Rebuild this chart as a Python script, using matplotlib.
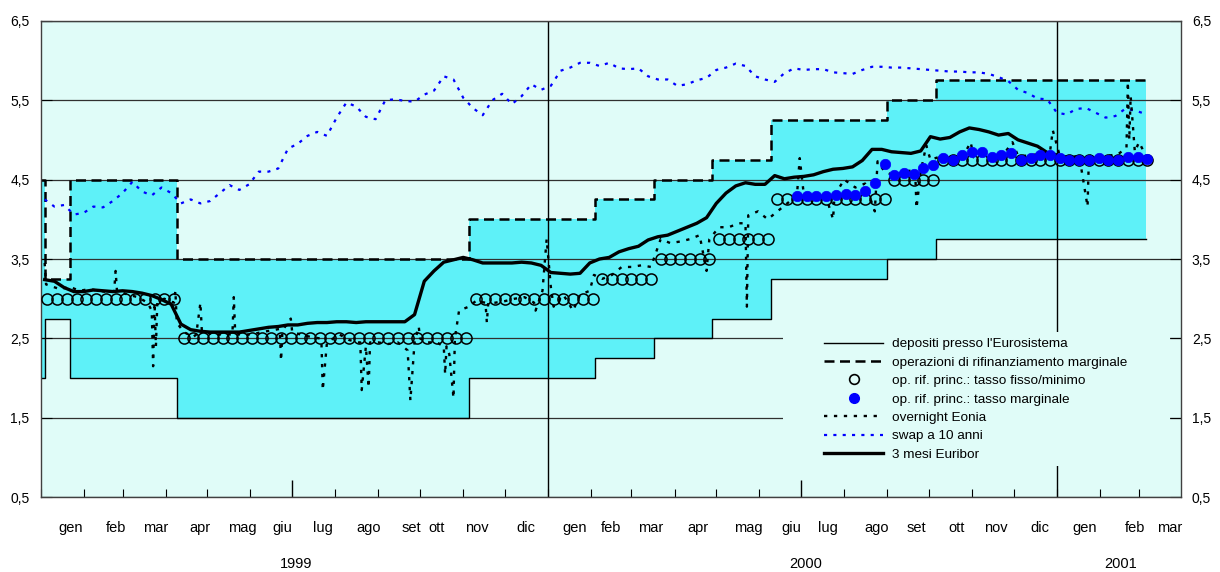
import matplotlib
matplotlib.use("Agg")
import matplotlib.pyplot as plt
import matplotlib.dates as mdates
from matplotlib.lines import Line2D
from matplotlib.patches import Rectangle
from matplotlib.ticker import FuncFormatter
import pandas as pd

plt.rcParams["font.family"] = ["Liberation Sans", "DejaVu Sans"]

BG = "#E0FCF8"
CORRIDOR = "#5EF1F8"
BLUE = "#0000FF"

# standing facilities, dates on which a new rate takes effect
policy_dates = ["1999-01-01", "1999-01-04", "1999-01-22", "1999-04-09", "1999-11-05",
                "2000-02-04", "2000-03-17", "2000-04-28", "2000-06-09", "2000-09-01",
                "2000-10-06", "2001-03-06"]
deposit_rate = [2.0, 2.75, 2.0, 1.5, 2.0, 2.25, 2.5, 2.75, 3.25, 3.5, 3.75, 3.75]
marginal_rate = [4.5, 3.25, 4.5, 3.5, 4.0, 4.25, 4.5, 4.75, 5.25, 5.5, 5.75, 5.75]

# main refinancing operations, weekly from 6 Jan 1999
mro_first = "1999-01-06"
mro_fixed = [
    3.0, 3.0, 3.0, 3.0,                # gen 99
    3.0, 3.0, 3.0, 3.0,                # feb
    3.0, 3.0, 3.0, 3.0, 3.0,           # mar
    3.0, 2.5, 2.5, 2.5,                # apr
    2.5, 2.5, 2.5, 2.5,                # mag
    2.5, 2.5, 2.5, 2.5, 2.5,           # giu
    2.5, 2.5, 2.5, 2.5,                # lug
    2.5, 2.5, 2.5, 2.5,                # ago
    2.5, 2.5, 2.5, 2.5, 2.5,           # set
    2.5, 2.5, 2.5, 2.5,                # ott
    2.5, 3.0, 3.0, 3.0,                # nov
    3.0, 3.0, 3.0, 3.0, 3.0,           # dic
    3.0, 3.0, 3.0, 3.0,                # gen 00
    3.0, 3.25, 3.25, 3.25,             # feb
    3.25, 3.25, 3.25, 3.5, 3.5,        # mar
    3.5, 3.5, 3.5, 3.5,                # apr
    3.75, 3.75, 3.75, 3.75, 3.75,      # mag
    3.75, 4.25, 4.25, 4.25,            # giu
    4.25, 4.25, 4.25, 4.25,            # lug
    4.25, 4.25, 4.25, 4.25, 4.25,      # ago
    4.5, 4.5, 4.5, 4.5,                # set
    4.5, 4.75, 4.75, 4.75,             # ott
    4.75, 4.75, 4.75, 4.75, 4.75,      # nov
    4.75, 4.75, 4.75, 4.75,            # dic
    4.75, 4.75, 4.75, 4.75, 4.75,      # gen 01
    4.75, 4.75, 4.75, 4.75,            # feb
    4.75,                              # mar
]
# marginal allotment rate of the variable rate tenders, weekly from 28 Jun 2000
mro_marg_first = "2000-06-28"
mro_marginal = [
    4.29,
    4.29, 4.29, 4.29, 4.30,
    4.32, 4.30, 4.35, 4.46, 4.69,
    4.56, 4.58, 4.57, 4.65,
    4.68, 4.77, 4.75, 4.81,
    4.85, 4.85, 4.79, 4.81, 4.83,
    4.75, 4.77, 4.81, 4.81,
    4.77, 4.75, 4.75, 4.75, 4.77,
    4.75, 4.75, 4.79, 4.78,
    4.76,
]

# market rates, weekly from 4 Jan 1999
market_first = "1999-01-04"
swap_10y = [
    4.25, 4.16, 4.18, 4.06, 4.08, 4.16, 4.15, 4.23, 4.33, 4.47,
    4.35, 4.30, 4.40, 4.33, 4.20, 4.25, 4.20, 4.23, 4.33, 4.43,
    4.37, 4.44, 4.60, 4.60, 4.64, 4.89, 4.95, 5.05, 5.10, 5.05,
    5.28, 5.47, 5.42, 5.29, 5.26, 5.50, 5.51, 5.49, 5.48, 5.57,
    5.62, 5.80, 5.76, 5.53, 5.40, 5.31, 5.50, 5.58, 5.45, 5.55,
    5.70, 5.63, 5.68, 5.87, 5.91, 5.97, 5.97, 5.93, 5.97, 5.90,
    5.89, 5.90, 5.80, 5.76, 5.76, 5.68, 5.70, 5.75, 5.78, 5.88,
    5.91, 5.96, 5.93, 5.80, 5.76, 5.73, 5.84, 5.90, 5.88, 5.89,
    5.89, 5.85, 5.84, 5.83, 5.88, 5.92, 5.92, 5.91, 5.91, 5.90,
    5.89, 5.88, 5.87, 5.86, 5.86, 5.85, 5.85, 5.83, 5.79, 5.74,
    5.63, 5.59, 5.52, 5.51, 5.34, 5.32, 5.39, 5.40, 5.34, 5.28,
    5.30, 5.39, 5.37, 5.33,
]
euribor_3m = [
    3.24, 3.22, 3.14, 3.09, 3.09, 3.11, 3.10, 3.09, 3.10, 3.09,
    3.07, 3.04, 2.99, 2.93, 2.68, 2.61, 2.59, 2.58, 2.58, 2.58,
    2.58, 2.60, 2.62, 2.64, 2.65, 2.67, 2.67, 2.69, 2.70, 2.70,
    2.71, 2.71, 2.70, 2.71, 2.71, 2.71, 2.71, 2.71, 2.80, 3.22,
    3.35, 3.46, 3.49, 3.52, 3.49, 3.45, 3.45, 3.45, 3.45, 3.46,
    3.45, 3.42, 3.33, 3.32, 3.31, 3.32, 3.45, 3.50, 3.52, 3.59,
    3.63, 3.66, 3.74, 3.78, 3.80, 3.85, 3.90, 3.95, 4.02, 4.20,
    4.33, 4.42, 4.46, 4.44, 4.44, 4.55, 4.51, 4.53, 4.54, 4.56,
    4.60, 4.63, 4.64, 4.66, 4.74, 4.88, 4.88, 4.85, 4.84, 4.83,
    4.86, 5.04, 5.01, 5.03, 5.10, 5.15, 5.13, 5.10, 5.06, 5.08,
    5.00, 4.96, 4.92, 4.84, 4.81, 4.78, 4.77, 4.76, 4.76, 4.76,
    4.76, 4.77, 4.78, 4.77,
]

# overnight Eonia (selected days, incl. end-of-period spikes)
eonia_dates = [
    "1999-01-04", "1999-01-05", "1999-01-15", "1999-01-22", "1999-01-29",
    "1999-02-05", "1999-02-12", "1999-02-19", "1999-02-23", "1999-02-24", "1999-02-25",
    "1999-03-05", "1999-03-12", "1999-03-19", "1999-03-22", "1999-03-23", "1999-03-24",
    "1999-03-25", "1999-03-26", "1999-03-31",
    "1999-04-07", "1999-04-08", "1999-04-09", "1999-04-14", "1999-04-21", "1999-04-23",
    "1999-04-26", "1999-04-27",
    "1999-05-05", "1999-05-12", "1999-05-19", "1999-05-20", "1999-05-21", "1999-05-24",
    "1999-06-02", "1999-06-09", "1999-06-16", "1999-06-22", "1999-06-23", "1999-06-24", "1999-06-30",
    "1999-07-01", "1999-07-07", "1999-07-14", "1999-07-21", "1999-07-22", "1999-07-23", "1999-07-26",
    "1999-08-04", "1999-08-11", "1999-08-18", "1999-08-19", "1999-08-20", "1999-08-23",
    "1999-08-25", "1999-08-26",
    "1999-09-01", "1999-09-08", "1999-09-15", "1999-09-22", "1999-09-23", "1999-09-24",
    "1999-09-27", "1999-09-30",
    "1999-10-01", "1999-10-06", "1999-10-13", "1999-10-18", "1999-10-19", "1999-10-20",
    "1999-10-22", "1999-10-25", "1999-10-26", "1999-10-29",
    "1999-11-05", "1999-11-10", "1999-11-17", "1999-11-18", "1999-11-19", "1999-11-24",
    "1999-12-01", "1999-12-08", "1999-12-15", "1999-12-22", "1999-12-23", "1999-12-28", "1999-12-31",
    "2000-01-03", "2000-01-05", "2000-01-12", "2000-01-19", "2000-01-24", "2000-01-31",
    "2000-02-03", "2000-02-09", "2000-02-16", "2000-02-23",
    "2000-03-01", "2000-03-08", "2000-03-15", "2000-03-22", "2000-03-29",
    "2000-04-05", "2000-04-12", "2000-04-19", "2000-04-24", "2000-04-26",
    "2000-05-03", "2000-05-10", "2000-05-17", "2000-05-22", "2000-05-23", "2000-05-24", "2000-05-31",
    "2000-06-07", "2000-06-14", "2000-06-21", "2000-06-28", "2000-06-30",
    "2000-07-03", "2000-07-12", "2000-07-19", "2000-07-24", "2000-07-25",
    "2000-08-01", "2000-08-09", "2000-08-16", "2000-08-23", "2000-08-25", "2000-08-30",
    "2000-09-06", "2000-09-13", "2000-09-21", "2000-09-22", "2000-09-25", "2000-09-29",
    "2000-10-02", "2000-10-11", "2000-10-18", "2000-10-24", "2000-10-31",
    "2000-11-02", "2000-11-08", "2000-11-15", "2000-11-22", "2000-11-30",
    "2000-12-04", "2000-12-11", "2000-12-18", "2000-12-27", "2000-12-29",
    "2001-01-03", "2001-01-10", "2001-01-17", "2001-01-23", "2001-01-24", "2001-01-31",
    "2001-02-07", "2001-02-14", "2001-02-20", "2001-02-21", "2001-02-22", "2001-02-23", "2001-02-26",
    "2001-03-01", "2001-03-06",
]
eonia = [
    3.45, 3.18, 3.12, 3.15, 3.10,
    3.12, 3.10, 3.08, 3.10, 3.35, 3.10,
    3.05, 3.02, 2.95, 2.85, 2.15, 2.95,
    2.40, 2.95, 3.00,
    2.95, 3.10, 2.70, 2.58, 2.52, 2.55,
    2.95, 2.60,
    2.55, 2.55, 2.55, 3.02, 2.58, 2.55,
    2.55, 2.58, 2.60, 2.62, 2.22, 2.60, 2.75,
    2.58, 2.55, 2.52, 2.50, 2.48, 1.85, 2.45,
    2.55, 2.48, 2.45, 2.45, 1.85, 2.40,
    1.88, 2.45,
    2.45, 2.43, 2.45, 2.35, 2.05, 1.72,
    2.45, 2.65,
    2.50, 2.45, 2.45, 2.40, 2.05, 2.40,
    2.30, 1.75, 2.50, 2.85,
    2.90, 2.97, 2.95, 2.70, 2.95, 2.95,
    2.97, 3.00, 3.02, 2.95, 2.85, 3.10, 3.75,
    3.15, 2.90, 3.05, 2.85, 3.05, 3.10,
    3.30, 3.25, 3.30, 3.40,
    3.40, 3.42, 3.40, 3.75, 3.70,
    3.72, 3.75, 3.80, 3.35, 3.75,
    3.90, 3.90, 3.95, 3.95, 2.90, 4.05, 4.10,
    4.00, 4.10, 4.20, 4.30, 4.77,
    4.30, 4.30, 4.28, 4.00, 4.30,
    4.50, 4.40, 4.45, 4.10, 4.73, 4.60,
    4.55, 4.60, 4.62, 4.14, 4.60, 4.93,
    4.75, 4.80, 4.78, 4.75, 4.97,
    4.78, 4.80, 4.80, 4.78, 4.97,
    4.80, 4.80, 4.82, 4.85, 5.12,
    4.80, 4.78, 4.80, 4.16, 4.80, 4.78,
    4.80, 4.82, 4.90, 5.73, 5.00, 5.55, 4.85,
    4.97, 4.80,
]

month_labels = ["gen", "feb", "mar", "apr", "mag", "giu", "lug", "ago", "set", "ott", "nov", "dic",
                "gen", "feb", "mar", "apr", "mag", "giu", "lug", "ago", "set", "ott", "nov", "dic",
                "gen", "feb", "mar"]
month_label_dates = ["1999-01-23", "1999-02-24", "1999-03-25", "1999-04-26", "1999-05-26",
                     "1999-06-24", "1999-07-23", "1999-08-25", "1999-09-25", "1999-10-13",
                     "1999-11-11", "1999-12-16", "2000-01-20", "2000-02-15", "2000-03-15",
                     "2000-04-18", "2000-05-24", "2000-06-24", "2000-07-20", "2000-08-24",
                     "2000-09-22", "2000-10-21", "2000-11-18", "2000-12-20", "2001-01-21",
                     "2001-02-26", "2001-03-23"]
year_labels = ["1999", "2000", "2001"]
year_label_dates = ["1999-07-04", "2000-07-04", "2001-02-16"]
year_breaks = ["2000-01-01", "2001-01-01"]

legend_labels = [
    "depositi presso l'Eurosistema",
    "operazioni di rifinanziamento marginale",
    "op. rif. princ.: tasso fisso/minimo",
    "op. rif. princ.: tasso marginale",
    "overnight Eonia",
    "swap a 10 anni",
    "3 mesi Euribor",
]

dep_style = dict(color="black", lw=1.0)
marg_style = dict(color="black", lw=1.8, ls=(0, (4, 2.2)))
eonia_style = dict(color="black", lw=1.7, ls=(0, (1.4, 2.8)))
swap_style = dict(color=BLUE, lw=1.6, ls=(0, (1.4, 2.8)))
euribor_style = dict(color="black", lw=2.4)

fig = plt.figure(figsize=(12.2, 5.72), dpi=100)
ax = fig.add_axes([0.0332, 0.1306, 0.9346, 0.8332])
ax.set_facecolor(BG)
ax.set_axisbelow(True)

pol_x = pd.to_datetime(policy_dates)
ax.fill_between(pol_x, deposit_rate, marginal_rate, step="post", color=CORRIDOR, lw=0, zorder=0.2)
ax.grid(axis="y", color="#303030", lw=0.9)
for d in year_breaks:
    ax.axvline(pd.Timestamp(d), color="black", lw=1.0, zorder=0.6)
# legend sits on an opaque patch that hides the grid behind it
ax.add_patch(Rectangle((0.6512, 0.0657), 0.3394, 0.2811, transform=ax.transAxes,
                       facecolor=BG, edgecolor="none", zorder=0.8))

ax.step(pol_x, deposit_rate, where="post", zorder=2, **dep_style)
ax.step(pol_x, marginal_rate, where="post", zorder=2, **marg_style)

wk = pd.date_range(market_first, periods=len(swap_10y), freq="7D")
ax.plot(wk, swap_10y, zorder=2.2, **swap_style)
ax.plot(pd.to_datetime(eonia_dates), eonia, zorder=2.3, **eonia_style)
ax.plot(wk, euribor_3m, zorder=2.4, **euribor_style)

mro_x = pd.date_range(mro_first, periods=len(mro_fixed), freq="7D")
ax.plot(mro_x, mro_fixed, ls="none", marker="o", ms=8, mfc="none", mec="black", mew=1.1, zorder=2.6)
marg_x = pd.date_range(mro_marg_first, periods=len(mro_marginal), freq="7D")
ax.plot(marg_x, mro_marginal, ls="none", marker="o", ms=7.5, mfc=BLUE, mec=BLUE, mew=0.5, zorder=2.7)

ax.set_xlim(pd.Timestamp("1999-01-01"), pd.Timestamp("2001-03-31"))
ax.set_ylim(0.5, 6.5)
ax.set_yticks([0.5, 1.5, 2.5, 3.5, 4.5, 5.5, 6.5])
ax.yaxis.set_major_formatter(FuncFormatter(lambda v, p: f"{v:.1f}".replace(".", ",")))
ax.tick_params(axis="y", direction="in", length=8, width=0.8, left=True, right=True,
               labelleft=True, labelright=True, labelsize=10, pad=8)

ax.xaxis.set_major_locator(mdates.MonthLocator(bymonth=7))
ax.xaxis.set_minor_locator(mdates.MonthLocator())
ax.tick_params(axis="x", which="major", direction="in", length=12, width=1.0, labelbottom=False)
ax.tick_params(axis="x", which="minor", direction="in", length=6, width=0.8)

for s in ax.spines.values():
    s.set_color("#404040")
    s.set_linewidth(1.0)

xt = ax.get_xaxis_transform()
for lbl, d in zip(month_labels, month_label_dates):
    ax.text(pd.Timestamp(d), -0.065, lbl, transform=xt, ha="center", va="center", fontsize=10.5)
for lbl, d in zip(year_labels, year_label_dates):
    ax.text(pd.Timestamp(d), -0.141, lbl, transform=xt, ha="center", va="center", fontsize=10.5)

handles = [
    Line2D([], [], **dep_style),
    Line2D([], [], **marg_style),
    Line2D([], [], ls="none", marker="o", ms=7, mfc="none", mec="black", mew=1.2),
    Line2D([], [], ls="none", marker="o", ms=7, mfc=BLUE, mec=BLUE),
    Line2D([], [], **eonia_style),
    Line2D([], [], **swap_style),
    Line2D([], [], **euribor_style),
]
ax.legend(handles, legend_labels, loc="upper left", bbox_to_anchor=(0.6872, 0.3342),
          frameon=False, borderaxespad=0, borderpad=0, fontsize=9.7, handlelength=4.4,
          handletextpad=0.67, labelspacing=0.44)

fig.savefig("out.png", dpi=100)
